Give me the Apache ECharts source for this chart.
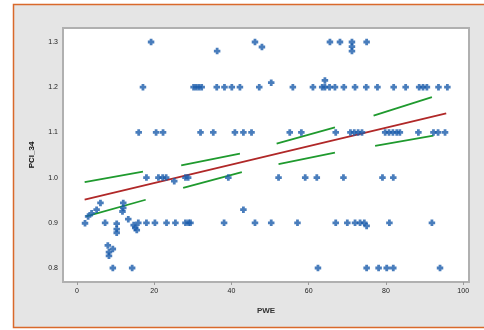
<!DOCTYPE html>
<html>
<head>
<meta charset="utf-8">
<script src="https://cdn.jsdelivr.net/npm/echarts@6/dist/echarts.min.js"></script>
<style>
html,body{margin:0;padding:0;background:#fff;}
#c{width:484px;height:330px;}
</style>
</head>
<body>
<div id="c"></div>
<script>
// Scatter points (PWE, PCI_34)
const pwe = [
  // 1.3 region
  19.2, 36.3, 46.1, 47.9, 65.5, 68.1, 71.2, 71.2, 71.2, 75,
  // 1.2 row
  17.1, 30.2, 30.9, 31.6, 32.3, 36.2, 38.2, 40.1, 42.2, 47.2, 50.3, 55.9, 61.1, 63.5, 64.2, 64.2, 65.4, 66.8, 69.1, 72, 74.9, 77.8, 82, 85.1, 88.6, 89.6, 90.6, 93.6, 95.9,
  // 1.1 row
  16, 20.5, 22.3, 32, 35.3, 40.9, 43.1, 45.2, 55.1, 58.1, 67, 70.8, 71.8, 72.8, 73.8, 79.8, 80.8, 81.8, 82.8, 83.6, 88.4, 92.3, 93.5, 95.3,
  // 1.0 row
  18, 21.1, 22.2, 23.1, 25.2, 28.1, 28.8, 39.2, 52.2, 59.1, 62.1, 69, 79.1, 81.9,
  // between 0.9 and 1.0
  6.1, 5.1, 3.8, 2.9, 12, 12, 11.8, 43.1,
  // 0.9 row and just below
  2.1, 7.3, 10.3, 10.3, 10.3, 13.3, 14.7, 15.1, 15.5, 15.9, 18, 20.2, 23.2, 25.5, 28.1, 28.9, 29.4, 38.1, 46.1, 50.3, 57.1, 67, 70, 72, 73.3, 74.4, 75, 80.9, 91.9,
  // 0.82 - 0.85
  8, 9.3, 8.3, 8.3,
  // 0.8 row
  9.3, 14.3, 62.4, 75, 78.1, 80.2, 81.9, 94
];
const pci = [
  1.3, 1.28, 1.3, 1.289, 1.3, 1.3, 1.3, 1.29, 1.28, 1.3,
  1.2, 1.2, 1.2, 1.2, 1.2, 1.2, 1.2, 1.2, 1.2, 1.2, 1.21, 1.2, 1.2, 1.2, 1.2, 1.215, 1.2, 1.2, 1.2, 1.2, 1.2, 1.2, 1.2, 1.2, 1.2, 1.2, 1.2, 1.2, 1.2,
  1.1, 1.1, 1.1, 1.1, 1.1, 1.1, 1.1, 1.1, 1.1, 1.1, 1.1, 1.1, 1.1, 1.1, 1.1, 1.1, 1.1, 1.1, 1.1, 1.1, 1.1, 1.1, 1.1, 1.1,
  1.0, 1.0, 1.0, 1.0, 0.992, 1.0, 1.0, 1.0, 1.0, 1.0, 1.0, 1.0, 1.0, 1.0,
  0.944, 0.929, 0.921, 0.914, 0.944, 0.933, 0.925, 0.929,
  0.899, 0.9, 0.898, 0.886, 0.878, 0.908, 0.895, 0.889, 0.884, 0.9, 0.9, 0.9, 0.9, 0.9, 0.9, 0.9, 0.9, 0.9, 0.9, 0.9, 0.9, 0.9, 0.9, 0.9, 0.9, 0.9, 0.893, 0.9, 0.9,
  0.85, 0.842, 0.835, 0.827,
  0.8, 0.8, 0.8, 0.8, 0.8, 0.8, 0.8, 0.8
];
// Fitted regression line (red)
const fitLine = [[2, 0.951], [95.6, 1.142]];
// Confidence band segments (green)
const upperBand = [
  [[2, 0.990], [17.1, 1.013]],
  [[27, 1.027], [42.2, 1.053]],
  [[51.7, 1.075], [66.8, 1.111]],
  [[76.8, 1.137], [91.9, 1.178]]
];
const lowerBand = [
  [[2.4, 0.914], [17.8, 0.951]],
  [[27.5, 0.977], [42.7, 1.012]],
  [[52.2, 1.030], [66.8, 1.055]],
  [[77.2, 1.070], [92.3, 1.093]]
];
const xTicks = [0, 20, 40, 60, 80, 100];
const yTicks = [0.8, 0.9, 1.0, 1.1, 1.2, 1.3];

const chart = echarts.init(document.getElementById('c'), null, {renderer: 'canvas'});
const FONT = 'Liberation Sans';
const plus = 'path://M2,0H5V2H7V5H5V7H2V5H0V2H2Z';

const series = [];
[...upperBand, ...lowerBand].forEach(seg => {
  series.push({
    type: 'line', data: seg, symbol: 'none', silent: true, z: 3,
    lineStyle: {color: '#1f9a2e', width: 1.8}
  });
});
series.push({
  type: 'line', data: fitLine, symbol: 'none', silent: true, z: 3,
  lineStyle: {color: '#b02828', width: 1.8}
});
series.push({
  type: 'scatter', z: 4,
  data: pwe.map((x, i) => [x, pci[i]]),
  symbol: plus, symbolSize: 6.5,
  itemStyle: {color: '#1c5cab'}
});

chart.setOption({
  animation: false,
  backgroundColor: '#ffffff',
  graphic: [{
    type: 'rect', z: -10,
    shape: {x: 13.5, y: 4.5, width: 480, height: 323},
    style: {fill: '#e5e5e5', stroke: '#d9692b', lineWidth: 1.5}
  }],
  grid: {
    left: 63, top: 28, right: 15, bottom: 48,
    show: true, backgroundColor: '#ffffff',
    borderColor: '#b0b0b0', borderWidth: 2
  },
  xAxis: {
    type: 'value', min: -3.6, max: 101.5,
    name: 'PWE', nameLocation: 'middle', nameGap: 25,
    nameTextStyle: {fontFamily: FONT, fontSize: 8, color: '#333', fontWeight: 'bold'},
    axisLine: {show: false},
    splitLine: {show: false},
    axisTick: {show: true, length: 3, customValues: xTicks, lineStyle: {color: '#999'}},
    axisLabel: {customValues: xTicks, fontFamily: FONT, fontSize: 7, color: '#222', margin: 6}
  },
  yAxis: {
    type: 'value', min: 0.769, max: 1.331,
    name: 'PCI_34', nameLocation: 'middle', nameGap: 27, nameRotate: 90,
    nameTextStyle: {fontFamily: FONT, fontSize: 8, color: '#111', fontWeight: 'bold'},
    axisLine: {show: false},
    splitLine: {show: false},
    axisTick: {show: false, customValues: yTicks},
    axisLabel: {customValues: yTicks, fontFamily: FONT, fontSize: 7, color: '#222', margin: 5,
      formatter: v => v.toFixed(1)}
  },
  series: series
});
</script>
</body>
</html>
